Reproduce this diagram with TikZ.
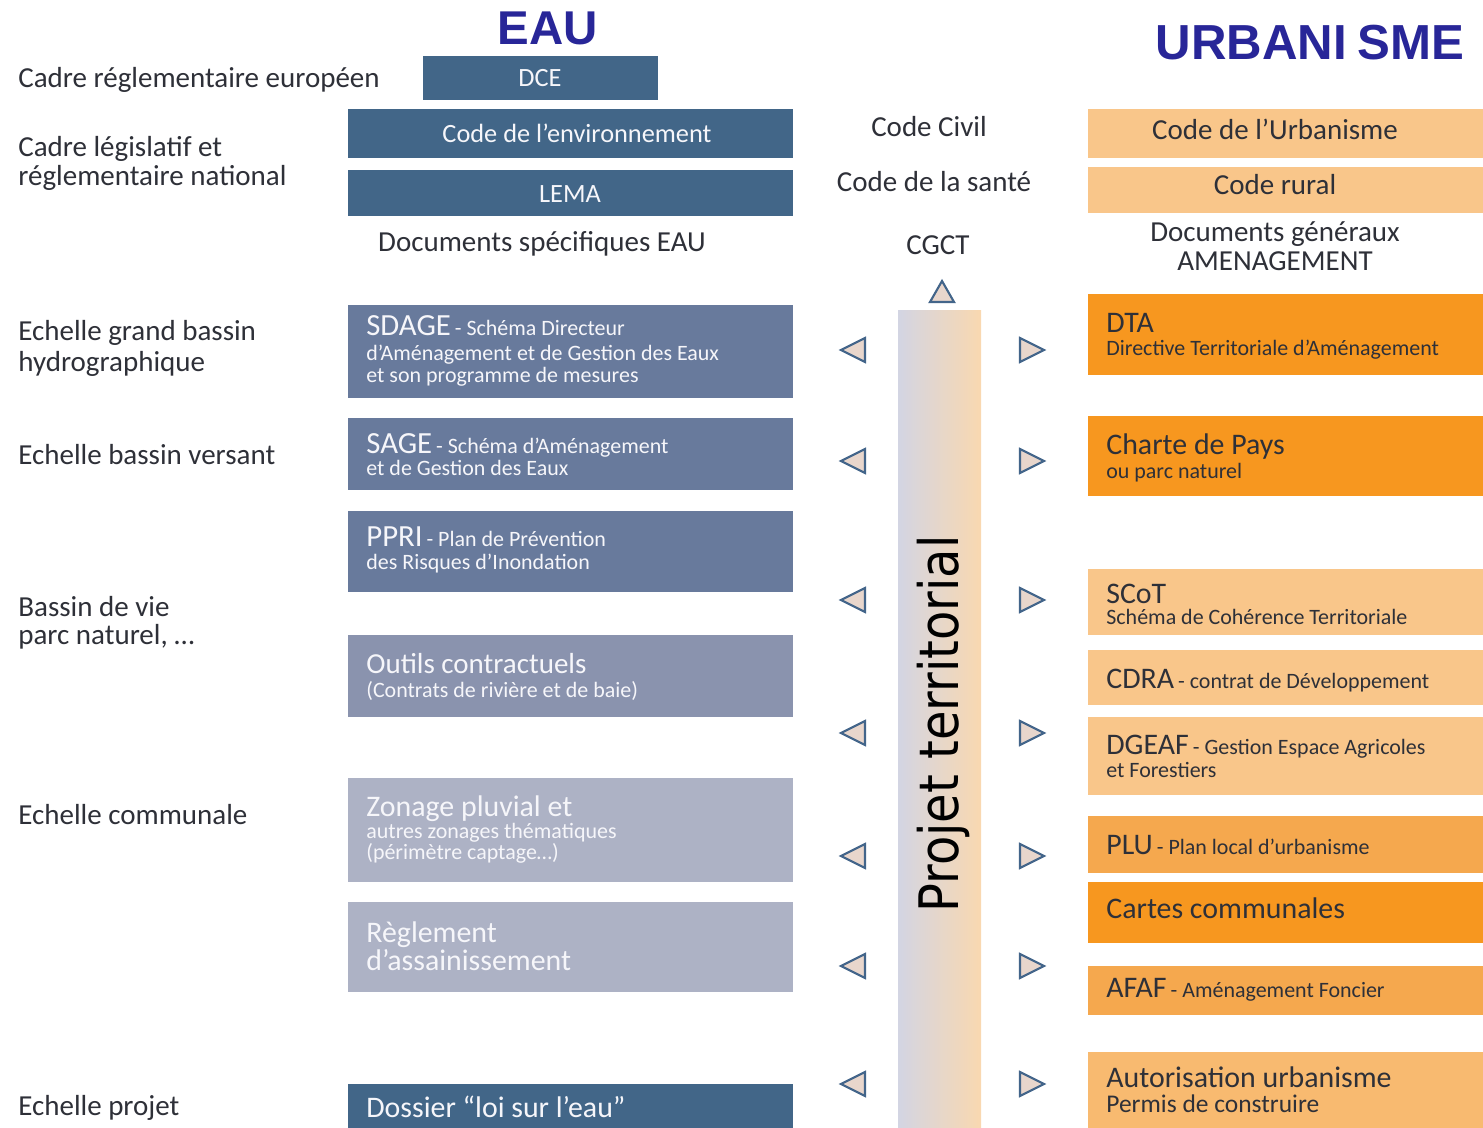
\documentclass[tikz,border=0pt]{standalone}
\usepackage{fontspec}
\setmainfont{Carlito}
\newfontfamily\titlefont{Liberation Sans}
\newfontfamily\projfont{DejaVu Sans}
\usetikzlibrary{fit}
\definecolor{cTitle}{RGB}{40,38,152}
\definecolor{cDark}{RGB}{46,48,56}
\definecolor{cBlueA}{RGB}{66,102,136}
\definecolor{cBlueB}{RGB}{104,122,156}
\definecolor{cBlueC}{RGB}{138,147,174}
\definecolor{cBlueD}{RGB}{173,178,197}
\definecolor{cOrA}{RGB}{247,151,31}
\definecolor{cOrB}{RGB}{245,168,78}
\definecolor{cOrC}{RGB}{249,198,138}
\definecolor{cOrD}{RGB}{248,186,112}
\definecolor{cBarL}{RGB}{211,213,227}
\definecolor{cBarR}{RGB}{249,216,176}
\definecolor{cTriD}{RGB}{67,101,138}
\definecolor{cTriF}{RGB}{232,214,204}
\definecolor{cWhiteT}{RGB}{246,246,250}
\newcommand{\fs}[1]{\fontsize{#1}{#1}\selectfont}
\tikzset{
  boxr/.style={inner sep=0pt, draw=none},
  lbl/.style={anchor=base west, inner sep=0pt, text=cDark, font=\fs{16.5}},
  ctr/.style={anchor=base, inner sep=0pt, text=cDark, font=\fs{16.5}},
  wt/.style={anchor=base west, inner sep=0pt, text=cWhiteT},
  dt/.style={anchor=base west, inner sep=0pt, text=cDark},
  nodepth/.style={text depth=0pt},
  tri/.style={draw=cTriD, fill=cTriF, line width=1.2pt, line join=miter},
}
\begin{document}
\begin{tikzpicture}[x=0.02cm,y=-0.02cm]
\useasboundingbox (0,0) rectangle (1483,1128);
\fill[white] (0,0) rectangle (1483,1128);

% titles
\node[anchor=base, inner sep=0pt, text=cTitle, font=\titlefont\bfseries\fs{27}] (teau) at (548,45) {EAU};
\node[anchor=base, inner sep=0pt, text=cTitle, font=\titlefont\bfseries\fs{28}] (turb) at (1310,60) {URBANI\hspace{6pt}SME};

% left labels
\node[lbl] (l1) at (18,88) {Cadre réglementaire européen};
\node[lbl] (l2) at (18,157) {Cadre législatif et};
\node[lbl] (l2b) at (18,186) {réglementaire national};
\node[lbl] (l3) at (18,340) {Echelle grand bassin};
\node[lbl] (l3b) at (18,371) {hydrographique};
\node[lbl] (l4) at (18,464) {Echelle bassin versant};
\node[lbl] (l5) at (18,616) {Bassin de vie};
\node[lbl] (l5b) at (18,644) {parc naturel, \ldots};
\node[lbl] (l6) at (18,824) {Echelle communale};
\node[lbl] (l7) at (18,1115) {Echelle projet};

% left (EAU) boxes
\node[boxr, fit={(423,56) (658,100)}, fill=cBlueA] (dce) {};
\node[anchor=base, inner sep=0pt, text=cWhiteT, font=\fs{15}] (tdce) at (540,87) {DCE};
\node[boxr, fit={(348,109) (793,158)}, fill=cBlueA] (env) {};
\node[anchor=base, inner sep=0pt, text=cWhiteT, font=\fs{15}] (tenv) at (577,143) {Code de l'environnement};
\node[boxr, fit={(348,170) (793,216)}, fill=cBlueA] (lema) {};
\node[anchor=base, inner sep=0pt, text=cWhiteT, font=\fs{15}] (tlema) at (570,203) {LEMA};
\node[ctr] (tdocs) at (542,252) {Documents spécifiques EAU};

\node[boxr, fit={(348,305) (793,398)}, fill=cBlueB] (sdage) {};
\node[wt, nodepth] (tsdage1) at (366,336) {{\fs{17.5}SDAGE} {\fs{12.5}- Schéma Directeur}};
\node[wt, nodepth, font=\fs{12.5}] (tsdage2) at (366,360) {d'Aménagement et de Gestion des Eaux};
\node[wt, font=\fs{12.5}] (tsdage3) at (366,382) {et son programme de mesures};

\node[boxr, fit={(348,418) (793,490)}, fill=cBlueB] (sage) {};
\node[wt, nodepth] (tsage1) at (366,453) {{\fs{17.5}SAGE} {\fs{12.5}- Schéma d'Aménagement}};
\node[wt, font=\fs{12.5}] (tsage2) at (366,475) {et de Gestion des Eaux};

\node[boxr, fit={(348,511) (793,592)}, fill=cBlueB] (ppri) {};
\node[wt, nodepth] (tppri1) at (366,546) {{\fs{17.5}PPRI} {\fs{12.5}- Plan de Prévention}};
\node[wt, font=\fs{12.5}] (tppri2) at (366,569) {des Risques d'Inondation};

\node[boxr, fit={(348,635) (793,717)}, fill=cBlueC] (outils) {};
\node[wt, nodepth, font=\fs{16.5}] (toutils1) at (366,673) {Outils contractuels};
\node[wt, font=\fs{12.5}] (toutils2) at (366,697) {(Contrats de rivière et de baie)};

\node[boxr, fit={(348,778) (793,882)}, fill=cBlueD] (zonage) {};
\node[wt, nodepth, font=\fs{17}] (tzon1) at (366,816) {Zonage pluvial et};
\node[wt, nodepth, font=\fs{12.5}] (tzon2) at (366,838) {autres zonages thématiques};
\node[wt, font=\fs{12.5}] (tzon3) at (366,859) {(périmètre captage\ldots)};

\node[boxr, fit={(348,902) (793,992)}, fill=cBlueD] (regl) {};
\node[wt, nodepth, font=\fs{17}] (tregl1) at (366,942) {Règlement};
\node[wt, font=\fs{17}] (tregl2) at (366,970) {d'assainissement};

\node[boxr, fit={(348,1084) (793,1128)}, fill=cBlueA] (dossier) {};
\node[wt, font=\fs{17}] (tdossier) at (366,1117) {Dossier “loi sur l'eau”};

% middle
\node[ctr] (ccivil) at (929,137) {Code Civil};
\node[ctr] (csante) at (934,192) {Code de la santé};
\node[ctr] (cgct) at (938,255) {CGCT};
\node[boxr, fit={(898,311) (981,1128)}, left color=cBarL, right color=cBarR] (bar) {};
\node[anchor=base, inner sep=0pt, rotate=90, text=black, font=\projfont\fs{31}] (proj) at (958,724) {\scalebox{0.88}[1]{Projet territorial}};
\draw[tri] (942,281) -- (954,302) -- (930,302) -- cycle;

\foreach \yy in {350,461,600,733,856,966,1084} {
  \draw[tri] (841,\yy) -- (865,\yy-12) -- (865,\yy+12) -- cycle;
  \draw[tri] (1044,\yy) -- (1020,\yy-12) -- (1020,\yy+12) -- cycle;
}

% right (URBANISME) boxes
\node[boxr, fit={(1088,109) (1483,158)}, fill=cOrC] (curb) {};
\node[ctr] (tcurb) at (1275,140) {Code de l'Urbanisme};
\node[boxr, fit={(1088,167) (1483,213)}, fill=cOrC] (crur) {};
\node[ctr] (tcrur) at (1275,195) {Code rural};
\node[ctr, nodepth] (tdg1) at (1275,242) {Documents généraux};
\node[ctr] (tdg2) at (1275,271) {AMENAGEMENT};

\node[boxr, fit={(1088,294) (1483,375)}, fill=cOrA] (dta) {};
\node[dt, nodepth, font=\fs{17}] (tdta1) at (1106,333) {DTA};
\node[dt, font=\fs{12.5}] (tdta2) at (1106,356) {Directive Territoriale d'Aménagement};

\node[boxr, fit={(1088,416) (1483,496)}, fill=cOrA] (charte) {};
\node[dt, nodepth, font=\fs{17}] (tch1) at (1106,454) {Charte de Pays};
\node[dt, font=\fs{12.5}] (tch2) at (1106,478) {ou parc naturel};

\node[boxr, fit={(1088,569) (1483,635)}, fill=cOrC] (scot) {};
\node[dt, nodepth, font=\fs{17}] (tscot1) at (1106,603) {SCoT};
\node[dt, font=\fs{12.5}] (tscot2) at (1106,624) {Schéma de Cohérence Territoriale};

\node[boxr, fit={(1088,650) (1483,705)}, fill=cOrC] (cdra) {};
\node[dt] (tcdra) at (1106,688) {{\fs{17}CDRA} {\fs{12.5}- contrat de Développement}};

\node[boxr, fit={(1088,717) (1483,795)}, fill=cOrC] (dgeaf) {};
\node[dt, nodepth] (tdg1b) at (1106,754) {{\fs{17}DGEAF} {\fs{12.5}- Gestion Espace Agricoles}};
\node[dt, font=\fs{12.5}] (tdg2b) at (1106,777) {et Forestiers};

\node[boxr, fit={(1088,816) (1483,873)}, fill=cOrB] (plu) {};
\node[dt] (tplu) at (1106,854) {{\fs{17}PLU} {\fs{12.5}- Plan local d'urbanisme}};

\node[boxr, fit={(1088,882) (1483,943)}, fill=cOrA] (cartes) {};
\node[dt, font=\fs{17}] (tcartes) at (1106,918) {Cartes communales};

\node[boxr, fit={(1088,966) (1483,1015)}, fill=cOrB] (afaf) {};
\node[dt] (tafaf) at (1106,997) {{\fs{17}AFAF} {\fs{12.5}- Aménagement Foncier}};

\node[boxr, fit={(1088,1052) (1483,1128)}, fill=cOrD] (autor) {};
\node[dt, nodepth, font=\fs{17}] (taut1) at (1106,1087) {Autorisation urbanisme};
\node[dt, font=\fs{14.5}] (taut2) at (1106,1112) {Permis de construire};
\end{tikzpicture}
\end{document}
